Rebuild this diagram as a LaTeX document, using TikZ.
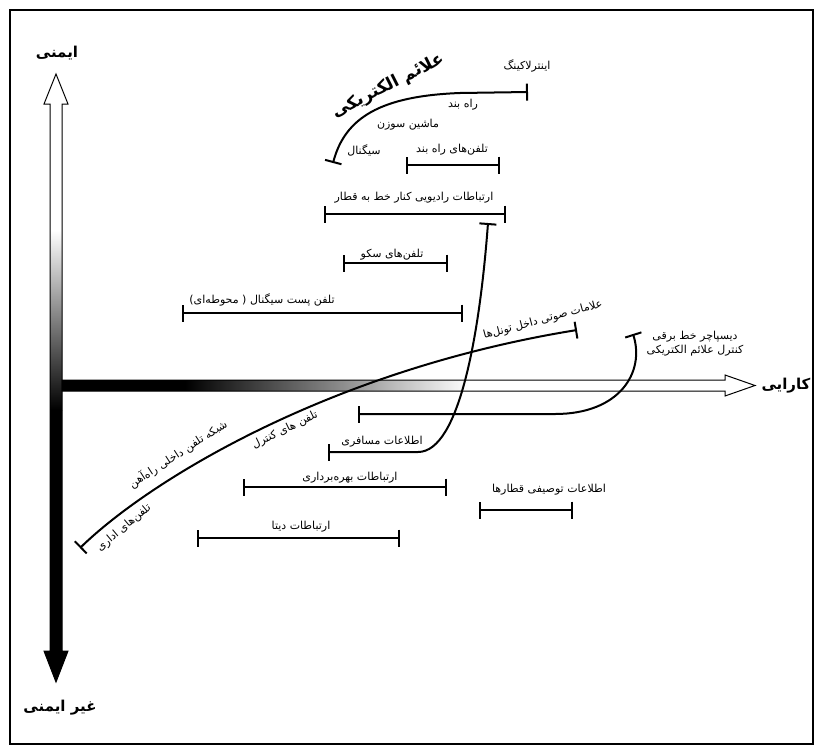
\documentclass[tikz,border=0pt]{standalone}
\usepackage{fontspec}
\newfontfamily\fa[Script=Arabic]{DejaVu Sans}
\TeXXeTstate=1
\usetikzlibrary{arrows.meta}
\newcommand{\rl}[1]{\beginR #1\endR}

\begin{document}
\begin{tikzpicture}[x=1pt,y=-1pt]
    \tikzset{lbl/.style= {font=\fa\fontsize{11}{14}\selectfont,
                          inner sep=0pt},
             big/.style= {font=\fa\bfseries\fontsize{15}{18}\selectfont,
                          inner sep=0pt},
             span/.style={line width=2.4pt,
                          arrows={Bar[width=17pt]-Bar[width=17pt]}},
             link/.style={line width=2pt,
                          arrows={Bar[width=17pt]-Bar[width=17pt]}},
             axis/.style={line width=1pt,
                          line join=miter},
            }
    \useasboundingbox (0,0) rectangle (815,745);
    \draw[line width=2.5pt] (10,10) rectangle (813,744);

    % vertical axis
    \begin{scope}
        \clip (50,104) -- (44,104) -- (56,74) -- (68,104) -- (62,104) -- (62,651)
              -- (68,651) -- (56,682) -- (44,651) -- (50,651) -- cycle;
        \fill[white] (40,70) rectangle (72,230);
        \shade[top color=white,bottom color=black] (40,230) rectangle (72,410);
        \fill[black] (40,410) rectangle (72,690);
    \end{scope}
    \draw[axis] (50,104) -- (44,104) -- (56,74) -- (68,104) -- (62,104) -- (62,651)
          -- (68,651) -- (56,682) -- (44,651) -- (50,651) -- cycle;

    % horizontal axis
    \begin{scope}
        \clip (62,380) -- (725,380) -- (725,375) -- (755,385.5) -- (725,396)
              -- (725,391) -- (62,391) -- cycle;
        \fill[black] (60,370) rectangle (185,400);
        \shade[left color=black,right color=white] (185,370) rectangle (470,400);
        \fill[white] (470,370) rectangle (760,400);
    \end{scope}
    \draw[axis] (62,380) -- (725,380) -- (725,375) -- (755,385.5) -- (725,396)
          -- (725,391) -- (62,391) -- cycle;

    \path
    (57,53)   node[big](safe)   {\rl{ایمنی}}
    (60,708)  node[big](unsafe) {\rl{غیر ایمنی}}
    (786,386) node[big](perf)   {\rl{کارایی}}
    (388,86)  node[big,rotate=27,font=\fa\bfseries\fontsize{17}{20}\selectfont](elec) {\rl{علائم الکتریکی}}
    (527,66)  node[lbl](intl)   {\rl{اینترلاکینگ}}
    (463,105) node[lbl](gate)   {\rl{راه بند}}
    (408,125) node[lbl](point)  {\rl{ماشین سوزن}}
    (364,150) node[lbl](sig)    {\rl{سیگنال}}
    (452,150) node[lbl](gtel)   {\rl{تلفن‌های راه بند}}
    (414,198) node[lbl](radio)  {\rl{ارتباطات رادیویی کنار خط به قطار}}
    (392,255) node[lbl](ptel)   {\rl{تلفن‌های سکو}}
    (262,300) node[lbl](post)   {\rl{تلفن پست سیگنال ( محوطه‌ای)}}
    (543,320) node[lbl,rotate=15](tunnel) {\rl{علامات صوتی داخل تونل‌ها}}
    (695,344) node[lbl,align=center](disp) {\rl{دیسپاچر خط برقی}\\\rl{کنترل علائم الکتریکی}}
    (178,454) node[lbl,rotate=33](net)  {\rl{شبکه تلفن داخلی راه‌آهن}}
    (285,430) node[lbl,rotate=26](ctel) {\rl{تلفن های کنترل}}
    (124,528) node[lbl,rotate=40](otel) {\rl{تلفن‌های اداری}}
    (382,442) node[lbl](pass)   {\rl{اطلاعات مسافری}}
    (350,478) node[lbl](oper)   {\rl{ارتباطات بهره‌برداری}}
    (549,490) node[lbl](train)  {\rl{اطلاعات توصیفی قطارها}}
    (301,527) node[lbl](data)   {\rl{ارتباطات دیتا}}
    ;

    \path
    (333,163) coordinate (elecA)  (528,92)  coordinate (elecB)
    (406,165) coordinate (gtelA)  (500,165) coordinate (gtelB)
    (324,214) coordinate (radioA) (506,214) coordinate (radioB)
    (343,263) coordinate (ptelA)  (448,263) coordinate (ptelB)
    (182,313) coordinate (postA)  (463,313) coordinate (postB)
    (80,548)  coordinate (netA)   (577,330) coordinate (netB)
    (358,414) coordinate (dispA)  (633,334) coordinate (dispB)
    (328,452) coordinate (passA)  (488,223) coordinate (passB)
    (243,487) coordinate (operA)  (447,487) coordinate (operB)
    (479,510) coordinate (trainA) (573,510) coordinate (trainB)
    (197,538) coordinate (dataA)  (400,538) coordinate (dataB)
    ;

    \draw[link] (elecA) .. controls (345,118) and (380,96) .. (460,93) -- (elecB);
    \draw[span] (gtelA) -- (gtelB);
    \draw[span] (radioA) -- (radioB);
    \draw[span] (ptelA) -- (ptelB);
    \draw[span] (postA) -- (postB);
    \draw[span] (operA) -- (operB);
    \draw[span] (trainA) -- (trainB);
    \draw[span] (dataA) -- (dataB);
    \draw[link] (netA) .. controls (150,480) and (330,370) .. (netB);
    \draw[link] (dispA) -- (555,414) .. controls (620,414) and (645,372) .. (dispB);
    \draw[link] (passA) -- (418,452) .. controls (460,452) and (480,330) .. (passB);
\end{tikzpicture}
\end{document}
